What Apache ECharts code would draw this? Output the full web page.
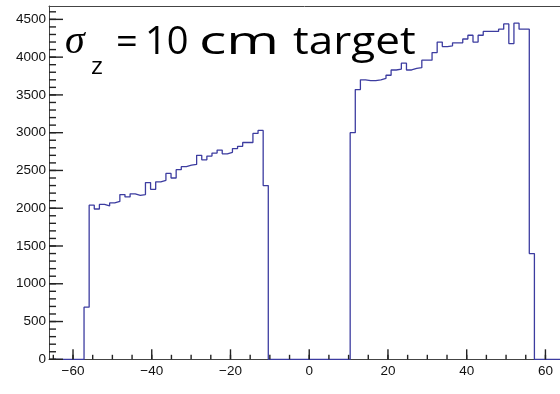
<!DOCTYPE html>
<html><head><meta charset="utf-8">
<script src="https://cdn.jsdelivr.net/npm/echarts@6/dist/echarts.min.js"></script>
<style>html,body{margin:0;padding:0;background:#fff}#c{width:560px;height:394px}</style>
</head><body><div id="c"></div>
<script>
// Histogram definition (100 bins from -65 to 65)
const binStart = -65;
const binWidth = 1.3;
const binCount = 100;
// Non-empty bins, left block
const leftFirstBin = 6;
const leftCounts = [690, 2040, 1990, 2050, 2030, 2070, 2090, 2180, 2150, 2190, 2170, 2180,
  2340, 2250, 2350, 2370, 2460, 2400, 2510, 2550, 2570, 2580, 2700, 2640, 2690, 2730,
  2770, 2720, 2740, 2790, 2820, 2870, 2870, 2990, 3030, 2300];
// Non-empty bins, right block
const rightFirstBin = 58;
const rightCounts = [3000, 3570, 3700, 3690, 3690, 3700, 3720, 3760, 3830, 3840, 3920, 3830,
  3850, 3860, 3960, 3960, 4060, 4200, 4140, 4150, 4190, 4190, 4240, 4290, 4200, 4290,
  4340, 4340, 4340, 4370, 4440, 4180, 4450, 4370, 4370, 1400];
// Axis tick values
const xTickLabels = [-60, -40, -20, 0, 20, 40, 60];
const yTickLabels = [0, 500, 1000, 1500, 2000, 2500, 3000, 3500, 4000, 4500];
const xMinorTicks = [];
for (let v = -65; v <= 60; v += 5) xMinorTicks.push(v);
const yMinorTicks = [];
for (let v = 0; v <= 4600; v += 100) yMinorTicks.push(v);
const titleParts = ['=', '10', 'cm', 'target'];

const counts = new Array(binCount).fill(0);
leftCounts.forEach((c, i) => counts[leftFirstBin + i] = c);
rightCounts.forEach((c, i) => counts[rightFirstBin + i] = c);
const points = counts.map((c, k) => [binStart + k * binWidth, c]);
points.push([binStart + binCount * binWidth, 0]);

const axisColor = '#444';
const labelFont = {fontSize: 13.5, fontFamily: 'Liberation Sans', color: '#111'};
const fmt = v => v < 0 ? '\u2212' + (-v) : String(v);
const X_MIN = -66.1, X_MAX = 63.7, Y_MAX = 4677;

// tick marks drawn through the axes' scales
const tickData = []
  .concat(xTickLabels.map(v => [v, 0]))
  .concat(xMinorTicks.map(v => [v, 0]))
  .concat(yTickLabels.map(v => [X_MIN, v]))
  .concat(yMinorTicks.map(v => [X_MIN, v]));
const tickDir = []
  .concat(xTickLabels.map(() => [0, -10]))
  .concat(xMinorTicks.map(() => [0, -4.5]))
  .concat(yTickLabels.map(() => [14, 0]))
  .concat(yMinorTicks.map(() => [7, 0]));

const chart = echarts.init(document.getElementById('c'), null, {renderer: 'canvas'});
const titleX = [116, 145, 199, 293];
const titleScale = [1.0, 1.0, 1.5, 1.16];
chart.setOption({
  animation: false,
  backgroundColor: '#fff',
  grid: {left: 49, right: 0, top: 6, bottom: 34.7, show: false},
  xAxis: [
    {type: 'value', min: X_MIN, max: X_MAX, position: 'bottom',
     axisLine: {show: true, onZero: false, lineStyle: {color: axisColor, width: 1}},
     axisTick: {show: false},
     axisLabel: Object.assign({customValues: xTickLabels, formatter: fmt, margin: 5}, labelFont),
     splitLine: {show: false}},
    {type: 'value', min: X_MIN, max: X_MAX, position: 'top',
     axisLine: {show: true, onZero: false, lineStyle: {color: axisColor, width: 1}},
     axisTick: {show: false}, axisLabel: {show: false}, splitLine: {show: false}}
  ],
  yAxis: [
    {type: 'value', min: 0, max: Y_MAX, position: 'left',
     axisLine: {show: true, onZero: false, lineStyle: {color: axisColor, width: 1}},
     axisTick: {show: false},
     axisLabel: Object.assign({customValues: yTickLabels, formatter: v => String(v), margin: 3}, labelFont),
     splitLine: {show: false}}
  ],
  series: [{
    type: 'line', step: 'end', symbol: 'none', xAxisIndex: 0, yAxisIndex: 0,
    data: points, z: 3,
    lineStyle: {color: '#3c3ca0', width: 1.3}
  }, {
    type: 'custom', coordinateSystem: 'cartesian2d', xAxisIndex: 0, yAxisIndex: 0,
    clip: false, z: 10,
    data: tickData,
    renderItem: function (params, api) {
      const p = api.coord([api.value(0), api.value(1)]);
      const d = tickDir[params.dataIndex];
      return {
        type: 'line',
        shape: {x1: p[0], y1: p[1], x2: p[0] + d[0], y2: p[1] + d[1]},
        style: {stroke: '#222', lineWidth: 1.4, fill: null}
      };
    }
  }],
  graphic: [
    {type: 'text', x: 65, y: 42, style: {text: '\u03c3', font: 'italic 40px "Liberation Serif"', fill: '#000', verticalAlign: 'middle'}},
    {type: 'text', x: 91, y: 67, scaleX: 1.1, style: {text: 'z', font: '23px "Open Sans"', fill: '#000', verticalAlign: 'middle'}}
  ].concat(titleParts.map((t, i) => ({
    type: 'text', x: titleX[i], y: 43, scaleX: titleScale[i],
    style: {text: t, font: '38px "Open Sans"', fill: '#000', verticalAlign: 'middle'}
  })))
});
</script></body></html>
